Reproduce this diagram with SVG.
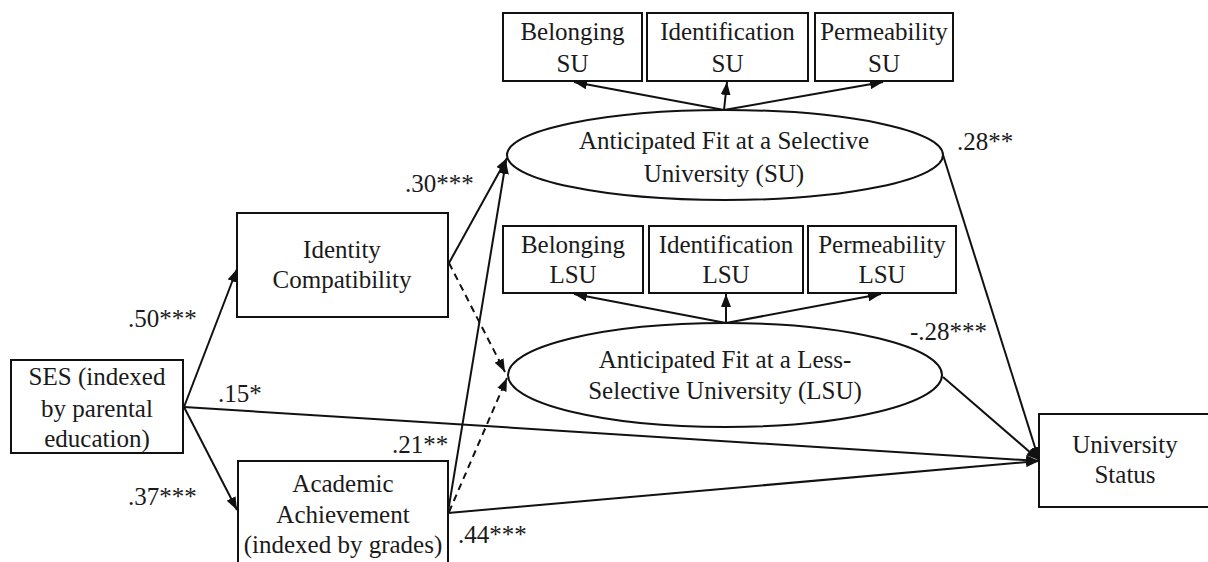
<svg xmlns="http://www.w3.org/2000/svg" width="1208" height="562" viewBox="0 0 1208 562">
<defs>
<marker id="ah" markerUnits="userSpaceOnUse" markerWidth="14" markerHeight="10" refX="13" refY="5" orient="auto">
<path d="M0,0 L13,5 L0,10 z" fill="#111"/>
</marker>
</defs>
<rect width="1208" height="562" fill="#fff"/>
<g id="connectors" stroke="#111" stroke-width="2" fill="none" marker-end="url(#ah)">
<line x1="184" y1="407" x2="237" y2="269"/>
<line x1="184" y1="407" x2="237" y2="510"/>
<line x1="184" y1="407" x2="1039" y2="461"/>
<line x1="449" y1="263" x2="507" y2="158"/>
<line x1="448" y1="512" x2="506" y2="161"/>
<line stroke-dasharray="7,5" x1="449" y1="263" x2="505" y2="372"/>
<line stroke-dasharray="7,5" x1="449" y1="512" x2="507" y2="378"/>
<line x1="448" y1="513" x2="1039" y2="461"/>
<line x1="943" y1="155" x2="1039" y2="460"/>
<line x1="943" y1="377" x2="1039" y2="460"/>
<line x1="724" y1="110" x2="574" y2="82"/>
<line x1="724" y1="110" x2="727" y2="82"/>
<line x1="724" y1="110" x2="883" y2="82"/>
<line x1="726" y1="323" x2="574" y2="294"/>
<line x1="726" y1="323" x2="726" y2="294"/>
<line x1="726" y1="323" x2="881" y2="294"/>
</g>
<g id="ses"><rect fill="#fff" stroke="#111" stroke-width="2" x="11" y="360" width="172" height="93"/>
<text font-family="Liberation Serif" font-size="25" fill="#1a1a1a" text-anchor="middle" x="97" y="385">SES (indexed</text><text font-family="Liberation Serif" font-size="25" fill="#1a1a1a" text-anchor="middle" x="97" y="417">by parental</text><text font-family="Liberation Serif" font-size="25" fill="#1a1a1a" text-anchor="middle" x="97" y="447">education)</text></g>
<g id="identity"><rect fill="#fff" stroke="#111" stroke-width="2" x="237" y="213" width="211" height="104"/>
<text font-family="Liberation Serif" font-size="25" fill="#1a1a1a" text-anchor="middle" x="342" y="258">Identity</text><text font-family="Liberation Serif" font-size="25" fill="#1a1a1a" text-anchor="middle" x="342" y="288">Compatibility</text></g>
<g id="academic"><rect fill="#fff" stroke="#111" stroke-width="2" x="238" y="461" width="210" height="110"/>
<text font-family="Liberation Serif" font-size="25" fill="#1a1a1a" text-anchor="middle" x="343" y="492">Academic</text><text font-family="Liberation Serif" font-size="25" fill="#1a1a1a" text-anchor="middle" x="343" y="523">Achievement</text><text font-family="Liberation Serif" font-size="25" fill="#1a1a1a" text-anchor="middle" x="343" y="553">(indexed by grades)</text></g>
<g id="su"><ellipse fill="#fff" stroke="#111" stroke-width="2" cx="725" cy="155" rx="218" ry="45"/>
<text font-family="Liberation Serif" font-size="25" fill="#1a1a1a" text-anchor="middle" x="724" y="149">Anticipated Fit at a Selective</text><text font-family="Liberation Serif" font-size="25" fill="#1a1a1a" text-anchor="middle" x="724" y="182">University (SU)</text></g>
<g id="lsu"><ellipse fill="#fff" stroke="#111" stroke-width="2" cx="725" cy="375" rx="217" ry="52"/>
<text font-family="Liberation Serif" font-size="25" fill="#1a1a1a" text-anchor="middle" x="725" y="368">Anticipated Fit at a Less-</text><text font-family="Liberation Serif" font-size="25" fill="#1a1a1a" text-anchor="middle" x="725" y="399">Selective University (LSU)</text></g>
<g id="belonging-su"><rect fill="#fff" stroke="#111" stroke-width="2" x="503" y="13" width="139" height="68"/>
<text font-family="Liberation Serif" font-size="25" fill="#1a1a1a" text-anchor="middle" x="572.5" y="40">Belonging</text><text font-family="Liberation Serif" font-size="25" fill="#1a1a1a" text-anchor="middle" x="572.5" y="72">SU</text></g>
<g id="identification-su"><rect fill="#fff" stroke="#111" stroke-width="2" x="647" y="13" width="161" height="68"/>
<text font-family="Liberation Serif" font-size="25" fill="#1a1a1a" text-anchor="middle" x="727.5" y="40">Identification</text><text font-family="Liberation Serif" font-size="25" fill="#1a1a1a" text-anchor="middle" x="727.5" y="72">SU</text></g>
<g id="permeability-su"><rect fill="#fff" stroke="#111" stroke-width="2" x="815" y="13" width="138" height="68"/>
<text font-family="Liberation Serif" font-size="25" fill="#1a1a1a" text-anchor="middle" x="884" y="40">Permeability</text><text font-family="Liberation Serif" font-size="25" fill="#1a1a1a" text-anchor="middle" x="884" y="72">SU</text></g>
<g id="belonging-lsu"><rect fill="#fff" stroke="#111" stroke-width="2" x="503" y="226" width="140" height="67"/>
<text font-family="Liberation Serif" font-size="25" fill="#1a1a1a" text-anchor="middle" x="573" y="253">Belonging</text><text font-family="Liberation Serif" font-size="25" fill="#1a1a1a" text-anchor="middle" x="573" y="283">LSU</text></g>
<g id="identification-lsu"><rect fill="#fff" stroke="#111" stroke-width="2" x="649" y="226" width="154" height="67"/>
<text font-family="Liberation Serif" font-size="25" fill="#1a1a1a" text-anchor="middle" x="726" y="253">Identification</text><text font-family="Liberation Serif" font-size="25" fill="#1a1a1a" text-anchor="middle" x="726" y="283">LSU</text></g>
<g id="permeability-lsu"><rect fill="#fff" stroke="#111" stroke-width="2" x="808" y="226" width="148" height="67"/>
<text font-family="Liberation Serif" font-size="25" fill="#1a1a1a" text-anchor="middle" x="882" y="253">Permeability</text><text font-family="Liberation Serif" font-size="25" fill="#1a1a1a" text-anchor="middle" x="882" y="283">LSU</text></g>
<g id="university-status"><rect fill="#fff" stroke="#111" stroke-width="2" x="1039" y="414" width="200" height="93"/>
<text font-family="Liberation Serif" font-size="25" fill="#1a1a1a" text-anchor="middle" x="1125" y="453">University</text><text font-family="Liberation Serif" font-size="25" fill="#1a1a1a" text-anchor="middle" x="1125" y="483">Status</text></g>
<g id="labels">
<text font-family="Liberation Serif" font-size="25" fill="#1a1a1a" x="405" y="192">.30***</text>
<text font-family="Liberation Serif" font-size="25" fill="#1a1a1a" x="128" y="327">.50***</text>
<text font-family="Liberation Serif" font-size="25" fill="#1a1a1a" x="218" y="402">.15*</text>
<text font-family="Liberation Serif" font-size="25" fill="#1a1a1a" x="128" y="505">.37***</text>
<text font-family="Liberation Serif" font-size="25" fill="#1a1a1a" x="392" y="453">.21**</text>
<text font-family="Liberation Serif" font-size="25" fill="#1a1a1a" x="458" y="543">.44***</text>
<text font-family="Liberation Serif" font-size="25" fill="#1a1a1a" x="957" y="150">.28**</text>
<text font-family="Liberation Serif" font-size="25" fill="#1a1a1a" x="910" y="340">-.28***</text>
</g>
</svg>
